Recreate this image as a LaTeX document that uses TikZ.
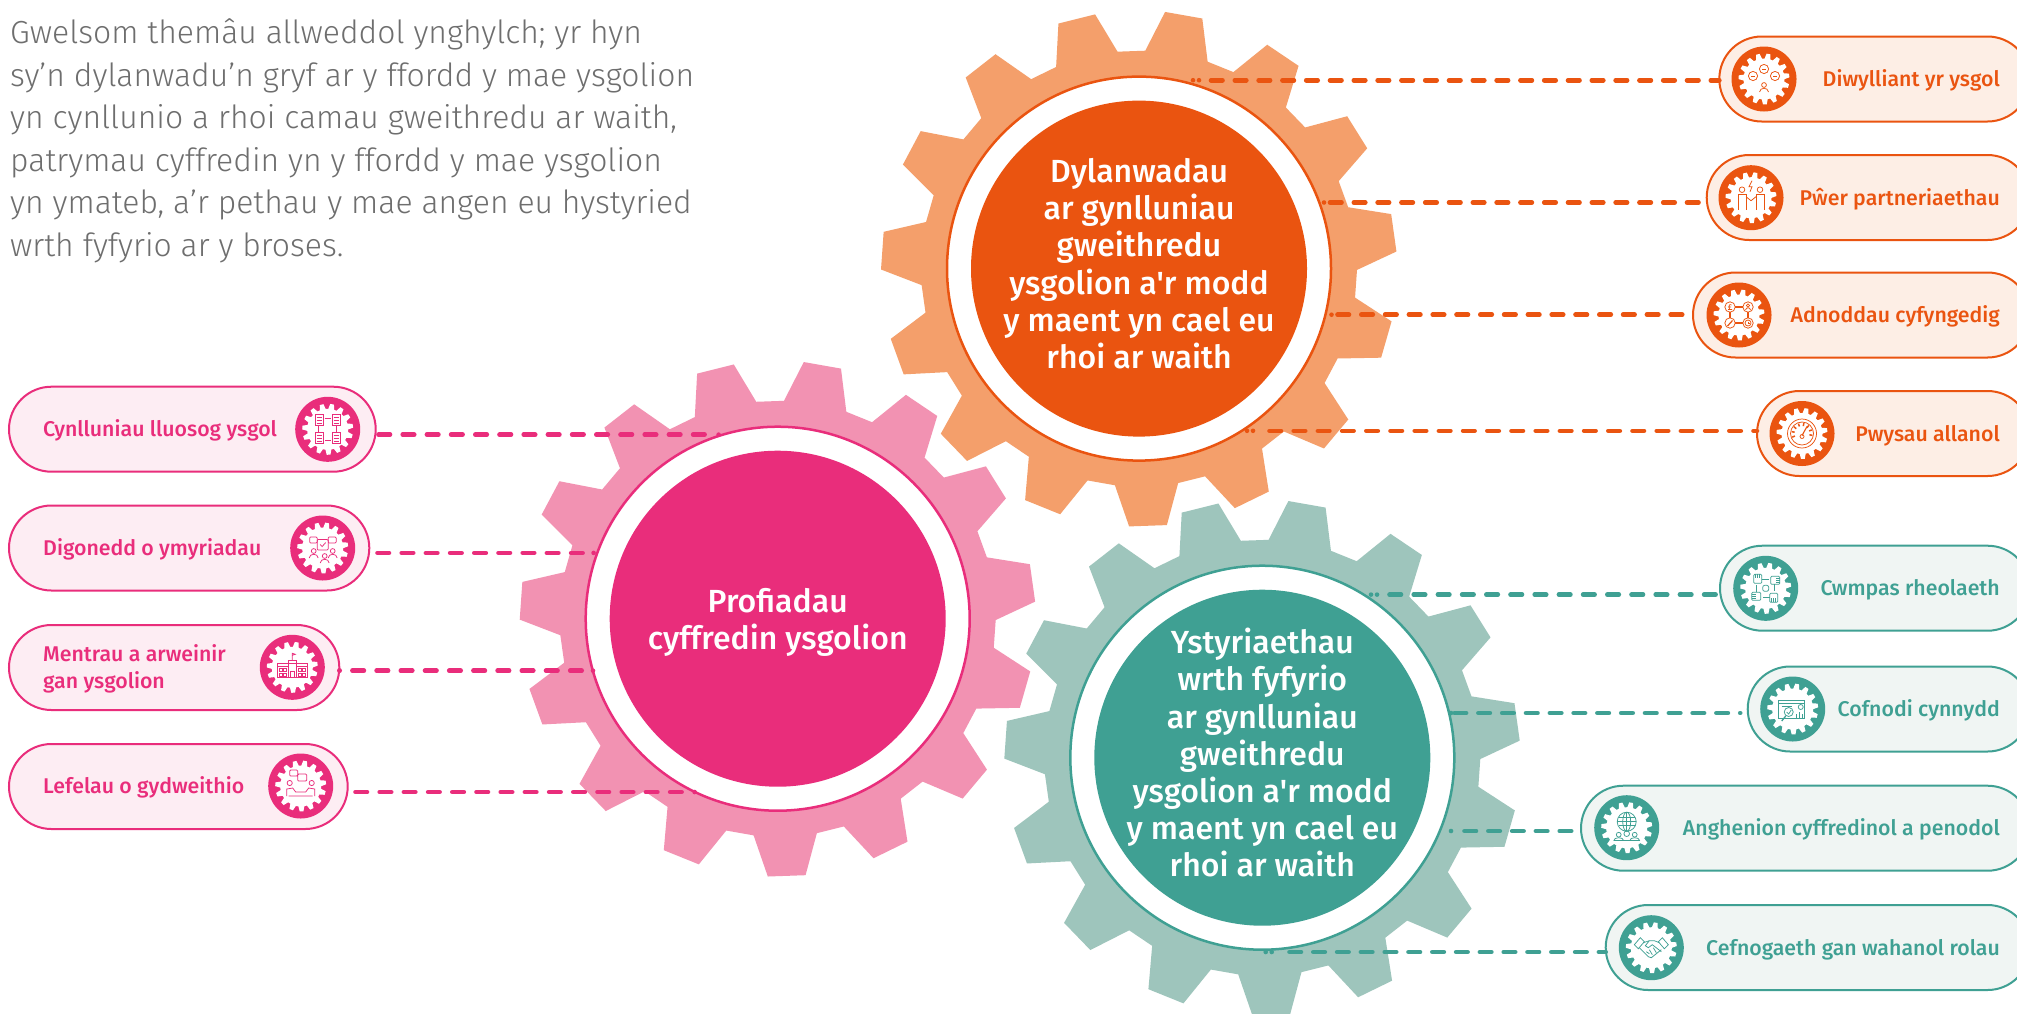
\documentclass[tikz,border=0pt]{standalone}
\usepackage{fontspec}
\usetikzlibrary{shapes.misc,shapes.geometric}
\setmainfont{Fira Sans}[Ligatures=TeXOff]
\newfontfamily\lightf{Fira Sans Light}[Ligatures=TeXOff]
\newfontfamily\medf{Fira Sans Medium}[Ligatures=TeXOff]
\definecolor{oD}{HTML}{EA5410}\definecolor{oL}{HTML}{F49F6B}\definecolor{oP}{HTML}{FDEEE5}
\definecolor{pD}{HTML}{E92D7B}\definecolor{pL}{HTML}{F292B2}\definecolor{pP}{HTML}{FDEDF3}
\definecolor{tD}{HTML}{3FA093}\definecolor{tL}{HTML}{9EC5BC}\definecolor{tP}{HTML}{F0F5F3}
\definecolor{bodygrey}{HTML}{6E6E6E}
\def\rpf#1{on 11.5pt off #1pt on 11.5pt off #1pt on 11.5pt off #1pt on 11.5pt off #1pt }
\def\rpa#1{\rpf{#1}\rpf{#1}\rpf{#1}\rpf{#1}\rpf{#1}\rpf{#1}}
\tikzset{
 leadbase/.style={line width=4.6pt,line cap=round},
 leadA/.style={leadbase,dash pattern/.expanded={on 0pt off #1pt \rpa{12.3}}},
 leadB/.style={leadbase,dash pattern/.expanded={on 0pt off #1pt \rpa{12.7}}},
 leadAA/.style={leadbase,dash pattern/.expanded={on 0pt off 6pt on 0pt off #1pt \rpa{12.3}}},
 leadBB/.style={leadbase,dash pattern/.expanded={on 0pt off 6pt on 0pt off #1pt \rpa{12.7}}},
 pillbox/.style={rounded rectangle,line width=2pt,inner sep=0pt,outer sep=0pt,minimum height=85pt,anchor=west},
 plabel/.style={font=\medf\fontsize{21.3}{27}\selectfont,inner sep=0pt,align=left},
 hubdisc/.style={circle,inner sep=0pt,minimum size=336pt},
 hubtext/.style={inner sep=0pt,text=white,align=center,font=\medf\fontsize{32}{37.2}\selectfont},
 ring/.style={circle,inner sep=0pt,minimum size=384pt,fill=white,line width=2.5pt},
 icondisc/.style={circle,inner sep=0pt,minimum size=65pt},
}
% gear: cx cy Rtip Rroot colour
\newcommand\cog[5]{\fill[#5,shift={(#1,#2)}] (-88.35:#4) \foreach \k in {0,...,14}{ -- (\k*24-88.35:#4) -- (\k*24-84.2:#3) -- (\k*24-75.8:#3) -- (\k*24-71.65:#4)} -- cycle;}
\newcommand\prs[2]{\draw (#1,#2) circle (2.4); \draw (#1-4.5,#2+7) .. controls (#1-4,#2+2) and (#1+4,#2+2) .. (#1+4.5,#2+7);}
% icon: name x y colour body
\newcommand\gearicon[5]{\node[icondisc,fill=#4] (#1) at (#2,#3) {};
 \cog{#2}{#3}{25.5}{20.5}{white}
 \begin{scope}[shift={(#2,#3)},color=#4,line width=.75pt]#5\end{scope}}
\begin{document}
\begin{tikzpicture}[x=1pt,y=-1pt]
\useasboundingbox (0,0) rectangle (2017,1013);
\clip (0,0) rectangle (2017,1013);
\fill[white] (0,0) rectangle (2017,1013);
% body text
\node[anchor=north west,inner sep=0pt,align=left,text=bodygrey,font=\lightf\fontsize{31.9}{42.6}\selectfont] (intro) at (10,18.5) {Gwelsom themâu allweddol ynghylch; yr hyn\\sy’n dylanwadu’n gryf ar y ffordd y mae ysgolion\\yn cynllunio a rhoi camau gweithredu ar waith,\\patrymau cyffredin yn y ffordd y mae ysgolion\\yn ymateb, a’r pethau y mae angen eu hystyried\\wrth fyfyrio ar y broses.};
% gears
\cog{1139}{268.6}{258}{218}{oL}
\cog{777.7}{618.7}{258}{218}{pL}
\cog{1262.3}{757.7}{258}{218}{tL}
\node[ring,draw=oD] (oring) at (1139,268.6) {};
\node[ring,draw=pD] (pring) at (777.7,618.7) {};
\node[ring,draw=tD] (tring) at (1262.3,757.7) {};
\node[hubdisc,fill=oD] (ohub) at (1139,268.6) {};
\node[hubdisc,fill=pD] (phub) at (777.7,618.7) {};
\node[hubdisc,fill=tD] (thub) at (1262.3,757.7) {};
\node[hubtext] (otext) at (1139,263.6) {Dylanwadau\\ar gynlluniau\\gweithredu\\ysgolion a'r modd\\y maent yn cael eu\\rhoi ar waith};
\node[hubtext] (ptext) at (777.7,622) {Profiadau\\cyffredin ysgolion};
\node[hubtext] (ttext) at (1262.3,752.7) {Ystyriaethau\\wrth fyfyrio\\ar gynlluniau\\gweithredu\\ysgolion a'r modd\\y maent yn cael eu\\rhoi ar waith};
% free ends of the connectors
\coordinate (co1) at (1193,80.2);\coordinate (co2) at (1324,202.5);\coordinate (co3) at (1331.5,314.7);\coordinate (co4) at (1247,430.8);
\coordinate (cp1) at (718.6,434.6);\coordinate (cp2) at (593.6,552.9);\coordinate (cp3) at (593,670.7);\coordinate (cp4) at (694.6,792);
\coordinate (ct1) at (1371,594.6);\coordinate (ct2) at (1451,713);\coordinate (ct3) at (1451,831);\coordinate (ct4) at (1265.7,952);
% pills
\node[pillbox,draw=oD,fill=oP,minimum width=310.7pt] (po1) at (1719.3,79) {};
\node[pillbox,draw=oD,fill=oP,minimum width=323.3pt] (po2) at (1706.7,197.5) {};
\node[pillbox,draw=oD,fill=oP,minimum width=337pt] (po3) at (1693,315) {};
\node[pillbox,draw=oD,fill=oP,minimum width=273pt] (po4) at (1757,433.5) {};
\node[pillbox,draw=pD,fill=pP,minimum width=366.7pt] (pp1) at (9,429.2) {};
\node[pillbox,draw=pD,fill=pP,minimum width=360.3pt] (pp2) at (9,548) {};
\node[pillbox,draw=pD,fill=pP,minimum width=330.3pt] (pp3) at (9,667.5) {};
\node[pillbox,draw=pD,fill=pP,minimum width=338.7pt] (pp4) at (9,786.5) {};
\node[pillbox,draw=tD,fill=tP,minimum width=310pt] (pt1) at (1720,588.2) {};
\node[pillbox,draw=tD,fill=tP,minimum width=282.3pt] (pt2) at (1747.7,709) {};
\node[pillbox,draw=tD,fill=tP,minimum width=449pt] (pt3) at (1581,828.2) {};
\node[pillbox,draw=tD,fill=tP,minimum width=424.3pt] (pt4) at (1605.7,947.5) {};
% connectors
\draw[leadAA=12,oD] (co1) -- (po1.west |- co1);
\draw[leadA=6,oD] (co2) -- (po2.west |- co2);
\draw[leadA=6,oD] (co3) -- (po3.west |- co3);
\draw[leadBB=16.5,oD] (co4) -- (po4.west |- co4);
\draw[leadB=14,pD] (cp1) -- (pp1.east |- cp1);
\draw[leadB=11,pD] (cp2) -- (pp2.east |- cp2);
\draw[leadB=11.3,pD] (cp3) -- (pp3.east |- cp3);
\draw[leadB=13,pD,shorten >=5pt] (cp4) -- (pp4.east |- cp4);
\draw[leadBB=12.5,tD] (ct1) -- (pt1.west |- ct1);
\draw[leadA=3.6,tD,shorten >=7.5pt] (ct2) -- (pt2.west |- ct2);
\draw[leadA=13.5,tD] (ct3) -- (pt3.west |- ct3);
\draw[leadAA=17.8,tD] (ct4) -- (pt4.west |- ct4);
% labels
\node[plabel,anchor=base east,text=oD] (lo1) at (2000,86.5) {Diwylliant yr ysgol};
\node[plabel,anchor=base east,text=oD] (lo2) at (2000,205) {Pŵer partneriaethau};
\node[plabel,anchor=base east,text=oD] (lo3) at (2000,322.5) {Adnoddau cyfyngedig};
\node[plabel,anchor=base east,text=oD] (lo4) at (2000,441) {Pwysau allanol};
\node[plabel,anchor=base west,text=pD] (lp1) at (43,436.5) {Cynlluniau lluosog ysgol};
\node[plabel,anchor=base west,text=pD] (lp2) at (43,555) {Digonedd o ymyriadau};
\node[plabel,anchor=west,text=pD] (lp3) at (43,668.5) {Mentrau a arweinir\\gan ysgolion};
\node[plabel,anchor=base west,text=pD] (lp4) at (43,793.5) {Lefelau o gydweithio};
\node[plabel,anchor=base east,text=tD] (lt1) at (2000,595.5) {Cwmpas rheolaeth};
\node[plabel,anchor=base east,text=tD] (lt2) at (2000,716) {Cofnodi cynnydd};
\node[plabel,anchor=base east,text=tD] (lt3) at (2000,835.5) {Anghenion cyffredinol a penodol};
\node[plabel,anchor=base east,text=tD] (lt4) at (2000,955) {Cefnogaeth gan wahanol rolau};
% icons
\gearicon{io1}{1764}{79}{oD}{
 \foreach \a/\b in {-11/-3,0/-10,11/-3}{\draw (\a,\b) circle (4.6); \draw (\a-2,\b) -- (\a+2,\b);}
 \prs{0}{6}}
\gearicon{io2}{1751}{197.7}{oD}{
 \foreach \s in {-1,1}{\draw (\s*9,-8) circle (2.8); \draw (\s*13,12)--(\s*13,-3)--(\s*5,-3)--(\s*5,12); \draw (\s*5,-1)--(0,3);}
 \draw (1,-17)--(-2,-11)--(1,-11)--(-1,-6);}
\gearicon{io3}{1739}{315}{oD}{
 \foreach \a/\b in {-9/-8,9/-8,-9/8,9/8}{\draw (\a,\b) circle (5.2);}
 \draw[line width=1.1pt] (-3.8,-8)--(3.8,-8) (-3.8,8)--(3.8,8) (-9,-2.8)--(-9,2.8) (9,-2.8)--(9,2.8);
 \draw (-7.5,-10) .. controls (-10,-11.5) and (-10.5,-9) .. (-9.5,-6) (-11,-8)--(-8,-8) (-11,-5.5)--(-7,-5.5);
 \draw (9,-9.5) circle (1.6); \draw (6.5,-5) .. controls (7,-8) and (11,-8) .. (11.5,-5);
 \draw[line width=1.2pt] (-11.5,11)--(-6.5,5.5);
 \draw (9,8) circle (3); \draw (9,6.5)--(9,8)--(10.5,8);}
\gearicon{io4}{1802}{433.5}{oD}{
 \draw (0,0) circle (14.5); \draw (0,0) circle (11.5);
 \foreach \a in {-200,-170,...,20}{\draw[line width=1.5pt] (\a:7.5) -- (\a:10.5);}
 \draw[line width=1.1pt] (0,2)--(5,-7); \draw (0,3) circle (2);}
\gearicon{ip1}{327.7}{429.3}{pD}{
 \foreach \a/\b in {-8.5/-9,8.5/-9,-8.5/9,8.5/9}{\draw (\a-4,\b-5.5) rectangle (\a+4,\b+5.5); \draw (\a-2.5,\b-3)--(\a+2.5,\b-3) (\a-2.5,\b)--(\a+2.5,\b) (\a-2.5,\b+3)--(\a+2.5,\b+3);}
 \draw (-3,-11)--(3,-11) (3,11)--(-3,11) (-9,-3)--(-9,3) (9,-3)--(9,3);}
\gearicon{ip2}{322.7}{548}{pD}{
 \draw[rounded corners=1pt] (-5.5,-8.5) rectangle (5.5,2); \draw (-2.5,-3.5)--(-.5,-1.5)--(3,-5.5);
 \draw[rounded corners=1pt] (-13,-11) rectangle (-5.5,-5) (5.5,-11) rectangle (13.5,-5);
 \prs{-9}{3}\prs{10}{3}\prs{2}{8}}
\gearicon{ip3}{292.3}{667.3}{pD}{
 \draw (-15,-4) rectangle (15,10); \draw (-4,-7) rectangle (4,10); \draw (-2,4) rectangle (2,10);
 \draw (0,-7)--(0,-14)--(3,-13)--(0,-12); \draw (-15,-1)--(-4,-1) (4,-1)--(15,-1);
 \foreach \a in {-13,-9,6,10}{\draw (\a,1) rectangle (\a+3,4); \draw (\a,6) rectangle (\a+3,9);}}
\gearicon{ip4}{300.7}{786}{pD}{
 \draw[rounded corners=1pt] (-11,-16) rectangle (-3,-10) (-3,-12) rectangle (6,-5);
 \draw (-11,-3) circle (2.6) (11,-3) circle (2.6);
 \draw (-14,10)--(-14,3)--(-8,2)--(-5,6)--(5,6)--(8,2)--(14,3)--(14,10) (-12,10)--(12,10);}
\gearicon{it1}{1765.7}{588.3}{tD}{
 \foreach \r in {0,90,180,270}{\begin{scope}[rotate=\r]
   \draw[rounded corners=1pt] (-12,-14) rectangle (-4,-5);
   \draw (-10,-14)--(-10,-10) (-8,-14)--(-8,-10) (-6,-14)--(-6,-10);
   \draw (-4,-9)--(3,-9);\end{scope}}
 \draw[rounded corners=2pt] (-3,-3) rectangle (3,3);}
\gearicon{it2}{1792.7}{709}{tD}{
 \draw (-14,-9) rectangle (12,9); \draw (-14,-6)--(12,-6); \draw (-11,-3)--(-1,-3);
 \draw (8,-2) circle (2.5); \draw (-4,3) circle (4.5); \draw (-6,3)--(-4,5)--(-1.5,1);
 \draw[line width=1.3pt] (-7,7)--(-11,12);
 \draw[line width=1.2pt] (4,9)--(4,5) (7,9)--(7,3) (10,9)--(10,5);}
\gearicon{it3}{1626.7}{827.7}{tD}{
 \draw (0,-6) circle (9.5); \draw (0,-6) ellipse (4 and 9.5); \draw (-9.5,-6)--(9.5,-6) (-8,-10)--(8,-10) (-8,-2)--(8,-2) (0,-15.5)--(0,3.5);
 \draw (-8,7) circle (2.4) (8,7) circle (2.4) (0,6) circle (2.8);
 \draw (-13,13) .. controls (-13,9) and (-3,9) .. (-3,13) (3,13) .. controls (3,9) and (13,9) .. (13,13);
 \draw (-13,13)--(13,13);}
\gearicon{it4}{1651.3}{947.7}{tD}{
 \draw (-17,-3)--(-11,-10)--(-7,-6)--(-13,1)--cycle (17,-3)--(11,-10)--(7,-6)--(13,1)--cycle;
 \draw (-8,-5)--(-2,-7)--(3,-7)--(8,-5);
 \draw (-2,-7)--(-6,-2)--(-3,0)--(1,-3)--(10,4);
 \draw (-12,0)--(-3,9)--(0,10)--(10,2);
 \draw (-5,4)--(-2,6) (-2,2)--(1,7) (2,0)--(5,5);}
\end{tikzpicture}
\end{document}
